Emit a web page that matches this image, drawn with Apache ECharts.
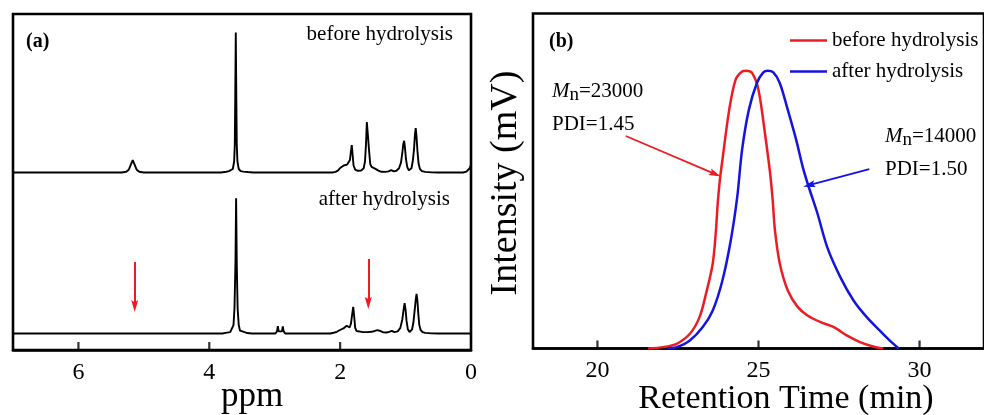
<!DOCTYPE html>
<html lang="en">
<head>
    <meta charset="utf-8" />
    <script src="https://cdn.jsdelivr.net/npm/echarts@6/dist/echarts.min.js"></script>
    <style>
        html, body { margin: 0; padding: 0; background: #fff; }
        #main { width: 984px; height: 415px; }
    </style>
</head>
<body>
<div id="main"></div>
<script>
    // (a) 1H NMR, [ppm, intensity], baseline 0, 3.6 ppm peak of upper trace = 100
    var nmrBefore = [
        [7.00, 0],
        [5.34, 0], [5.27, 0.5], [5.23, 2], [5.20, 5.5], [5.17, 8.9], [5.14, 5.5], [5.11, 2], [5.07, 0.5], [5.00, 0],
        [3.82, 0], [3.74, 0.5], [3.70, 1], [3.67, 0.8], [3.64, 2.5], [3.62, 8], [3.61, 20], [3.603, 55], [3.595, 100],
        [3.587, 55], [3.58, 20], [3.57, 8], [3.55, 2.5], [3.52, 1], [3.48, 0.6], [3.45, 0.9], [3.41, 0.3], [3.33, 0],
        [2.12, 0], [2.07, 0.4], [2.03, 1.5], [2.00, 3.2], [1.97, 3.5], [1.945, 5], [1.92, 4.2], [1.895, 5.6], [1.87, 5.2],
        [1.85, 9], [1.835, 15], [1.822, 19.5], [1.81, 13], [1.795, 5], [1.77, 2], [1.73, 1.2], [1.68, 1.3], [1.64, 3],
        [1.62, 8], [1.605, 20], [1.592, 36], [1.58, 29], [1.568, 29], [1.555, 14], [1.54, 6], [1.52, 4], [1.49, 3.3],
        [1.46, 2.6], [1.44, 2.4], [1.415, 1.3], [1.37, 0.5], [1.31, 0.4], [1.26, 0.8], [1.22, 1.7], [1.18, 0.8],
        [1.14, 1.2], [1.10, 3], [1.07, 7], [1.05, 14], [1.035, 20], [1.022, 22.6], [1.01, 18], [0.995, 10], [0.975, 4],
        [0.95, 1.5], [0.93, 1.3], [0.91, 3], [0.89, 8], [0.87, 17], [0.857, 27], [0.845, 31.7], [0.833, 26], [0.818, 15],
        [0.80, 6], [0.78, 2.5], [0.75, 1], [0.70, 0.4], [0.60, 0.1], [0.50, 0],
        [0.12, 0], [0.07, 0.6], [0.04, 1.5], [0.02, 3], [0.00, 5.5]
    ];
    var nmrAfter = [
        [7.00, 0],
        [3.80, 0], [3.73, 0.6], [3.68, 1], [3.65, 2], [3.63, 6], [3.615, 18], [3.60, 50], [3.59, 96.6], [3.58, 50],
        [3.567, 18], [3.55, 6], [3.53, 2], [3.50, 0.8], [3.46, 0.9], [3.42, 0.3], [3.35, 0],
        [2.99, 0], [2.965, 1.5], [2.952, 5.2], [2.94, 1.5], [2.92, 0.3], [2.89, 1.5], [2.876, 5], [2.864, 1.5], [2.84, 0],
        [2.15, 0], [2.10, 0.5], [2.05, 1.2], [2.01, 2.3], [1.98, 3], [1.95, 3.6], [1.925, 4.5], [1.90, 5.5], [1.875, 4.8],
        [1.855, 4.3], [1.835, 7], [1.815, 14], [1.80, 19], [1.785, 12], [1.77, 4], [1.75, 1.8], [1.72, 1.3], [1.65, 1],
        [1.58, 1], [1.52, 1.2], [1.47, 1.8], [1.43, 2.4], [1.39, 1.8], [1.34, 0.8], [1.29, 0.7], [1.25, 1.2], [1.21, 1.9],
        [1.17, 1], [1.12, 1.5], [1.08, 4], [1.05, 10], [1.03, 17], [1.015, 21.6], [1.00, 17], [0.985, 9], [0.965, 3],
        [0.94, 1], [0.92, 1.2], [0.90, 3], [0.88, 8], [0.86, 17], [0.845, 24], [0.832, 28.2], [0.82, 24], [0.805, 14],
        [0.79, 6], [0.77, 2.5], [0.74, 1], [0.70, 0.4], [0.60, 0.1], [0.50, 0], [0.00, 0]
    ];
    var stackOffset = 115;      // upper trace shift
    var ppmTicks = [0, 2, 4, 6];
    var ppmRange = [-11.8, 228.2];
    // red arrows in (a): [ppm, from, to]
    var nmrArrows = [[5.14, 51, 19.6], [1.57, 53.2, 21.8]];

    // (b) GPC, [min, normalised intensity]
    var gpcBefore = [
        [21.57, 0], [22.05, 0.005], [22.46, 0.017], [22.87, 0.053], [23.17, 0.113], [23.37, 0.197], [23.58, 0.306],
        [23.68, 0.426], [23.73, 0.516], [23.80, 0.606], [23.88, 0.679], [24.09, 0.859], [24.29, 0.968], [24.49, 0.997],
        [24.62, 1.0], [24.80, 0.992], [25.00, 0.931], [25.20, 0.775], [25.36, 0.631], [25.44, 0.534], [25.51, 0.426],
        [25.66, 0.306], [25.91, 0.209], [26.22, 0.149], [26.52, 0.119], [26.93, 0.095], [27.34, 0.077], [27.74, 0.047],
        [28.15, 0.023], [28.56, 0.007], [28.87, 0]
    ];
    var gpcAfter = [
        [22.16, 0], [22.46, 0.005], [22.87, 0.029], [23.27, 0.077], [23.58, 0.137], [23.88, 0.245], [24.14, 0.39],
        [24.34, 0.546], [24.49, 0.715], [24.70, 0.859], [24.95, 0.956], [25.15, 0.994], [25.29, 1.0], [25.46, 0.994],
        [25.66, 0.956], [25.91, 0.859], [26.17, 0.751], [26.37, 0.655], [26.55, 0.585], [26.83, 0.486], [27.13, 0.366],
        [27.54, 0.257], [27.95, 0.173], [28.36, 0.113], [28.76, 0.065], [29.07, 0.029], [29.35, 0]
    ];
    var timeTicks = [20, 25, 30];
    var timeRange = [0, 1.206];
    var redArrow = [[20.88, 0.765], [23.66, 0.628]];
    var blueArrow = [[28.44, 0.646], [26.57, 0.588]];

    var serif = "'Liberation Serif', 'Times New Roman', serif";
    var RED = '#ec1c24', BLUE = '#1414e0';
    var headPath = 'path://M5,0 L10,17 L5,14 L0,17 Z';

    function arrowLine(a, b, color) {
        return [{ coord: a, symbol: 'none' },
                { coord: b, symbol: headPath, symbolSize: 12, symbolKeepAspect: true,
                  lineStyle: { color: color }, itemStyle: { color: color } }];
    }

    // inside tick marks on the bottom edge: small bars standing on the axis
    function tickSeries(ticks, y0, xi) {
        return {
            name: 'ticks' + xi, type: 'scatter', xAxisIndex: xi, yAxisIndex: xi,
            data: ticks.map(function (t) { return [t, y0]; }),
            symbol: 'rect', symbolSize: [2.2, 8], symbolOffset: [0, -4], clip: false, silent: true, z: 6,
            itemStyle: { color: '#000' }
        };
    }

    function xAxisStyle(ticks, margin) {
        return {
            axisLine: { show: true, onZero: false, lineStyle: { color: '#000', width: 2.6 } },
            axisTick: { show: false },
            axisLabel: { customValues: ticks, color: '#000', fontFamily: serif, fontSize: 24, margin: margin },
            splitLine: { show: false }
        };
    }

    function mnStyle(val) {
        return {
            text: '{m|M}{n|n}{v|=' + val + '}',
            align: 'left', verticalAlign: 'middle', fill: '#000',
            rich: {
                m: { fontFamily: serif, fontSize: 21, fontStyle: 'italic', fill: '#000' },
                n: { fontFamily: serif, fontSize: 19, fill: '#000', padding: [9, 0, 0, 0] },
                v: { fontFamily: serif, fontSize: 21, fill: '#000' }
            }
        };
    }

    function txt(x, y, s, size, align, extra) {
        return Object.assign({ type: 'text', x: x, y: y,
            style: Object.assign({ text: s, fontFamily: serif, fontSize: size, fill: '#000', align: align, verticalAlign: 'middle' }, extra || {}) });
    }

    window.onload = function () {
        var chart = echarts.init(document.getElementById('main'));

        var xa = Object.assign({ gridIndex: 0, type: 'value', min: 0, max: 7, inverse: true }, xAxisStyle(ppmTicks, 11));
        var xb = Object.assign({ gridIndex: 1, type: 'value', min: 18, max: 32 }, xAxisStyle(timeTicks, 10));

        var yRot = txt(506, 183, 'Intensity (mV)', 38, 'center');
        yRot.rotation = Math.PI / 2;

        var option = {
            animation: false,
            backgroundColor: '#fff',
            grid: [
                { left: 13, top: 14, width: 458, height: 336, show: true, borderColor: '#000', borderWidth: 2.6 },
                { left: 533, top: 13.5, width: 459, height: 335, show: true, borderColor: '#000', borderWidth: 2.6 }
            ],
            xAxis: [xa, xb],
            yAxis: [
                { gridIndex: 0, type: 'value', min: ppmRange[0], max: ppmRange[1], show: false },
                { gridIndex: 1, type: 'value', min: timeRange[0], max: timeRange[1], show: false }
            ],
            legend: {
                data: ['before hydrolysis', 'after hydrolysis'],
                orient: 'vertical', left: 790, top: 30, padding: 0,
                icon: 'rect', itemWidth: 37, itemHeight: 2.5, itemGap: 10,
                textStyle: { fontFamily: serif, fontSize: 21, color: '#000', lineHeight: 14 }
            },
            series: [
                {
                    name: 'nmr before', type: 'line', xAxisIndex: 0, yAxisIndex: 0, symbol: 'none',
                    data: nmrBefore.map(function (p) { return [p[0], p[1] + stackOffset]; }),
                    lineStyle: { color: '#000', width: 1.9 }, itemStyle: { color: '#000' }
                },
                {
                    name: 'nmr after', type: 'line', xAxisIndex: 0, yAxisIndex: 0, symbol: 'none',
                    data: nmrAfter,
                    lineStyle: { color: '#000', width: 1.9 }, itemStyle: { color: '#000' },
                    markLine: {
                        silent: true, animation: false, label: { show: false },
                        lineStyle: { color: RED, width: 2, type: 'solid' },
                        data: nmrArrows.map(function (a) { return arrowLine([a[0], a[1]], [a[0], a[2]], RED); })
                    }
                },
                {
                    name: 'before hydrolysis', type: 'line', xAxisIndex: 1, yAxisIndex: 1, symbol: 'none',
                    smooth: 0.3, data: gpcBefore,
                    lineStyle: { color: RED, width: 2.5 }, itemStyle: { color: RED },
                    markLine: {
                        silent: true, animation: false, label: { show: false },
                        lineStyle: { color: RED, width: 1.8, type: 'solid' },
                        data: [arrowLine(redArrow[0], redArrow[1], RED)]
                    }
                },
                {
                    name: 'after hydrolysis', type: 'line', xAxisIndex: 1, yAxisIndex: 1, symbol: 'none',
                    smooth: 0.3, data: gpcAfter,
                    lineStyle: { color: BLUE, width: 2.5 }, itemStyle: { color: BLUE },
                    markLine: {
                        silent: true, animation: false, label: { show: false },
                        lineStyle: { color: BLUE, width: 1.8, type: 'solid' },
                        data: [arrowLine(blueArrow[0], blueArrow[1], BLUE)]
                    }
                },
                tickSeries(ppmTicks.slice(1), ppmRange[0], 0),
                tickSeries(timeTicks, timeRange[0], 1)
            ],
            graphic: [
                txt(26, 42, '(a)', 20, 'left', { fontWeight: 'bold' }),
                txt(453, 34, 'before hydrolysis', 21, 'right'),
                txt(450, 199, 'after hydrolysis', 21, 'right'),
                txt(252, 397, 'ppm', 35, 'center'),
                txt(549, 42, '(b)', 20, 'left', { fontWeight: 'bold' }),
                { type: 'text', x: 552, y: 91, style: mnStyle('23000') },
                txt(552, 124, 'PDI=1.45', 21, 'left'),
                { type: 'text', x: 885, y: 136, style: mnStyle('14000') },
                txt(885, 169, 'PDI=1.50', 21, 'left'),
                txt(786, 399, 'Retention Time (min)', 34, 'center'),
                yRot
            ]
        };

        chart.setOption(option);
    };
</script>
</body>
</html>
